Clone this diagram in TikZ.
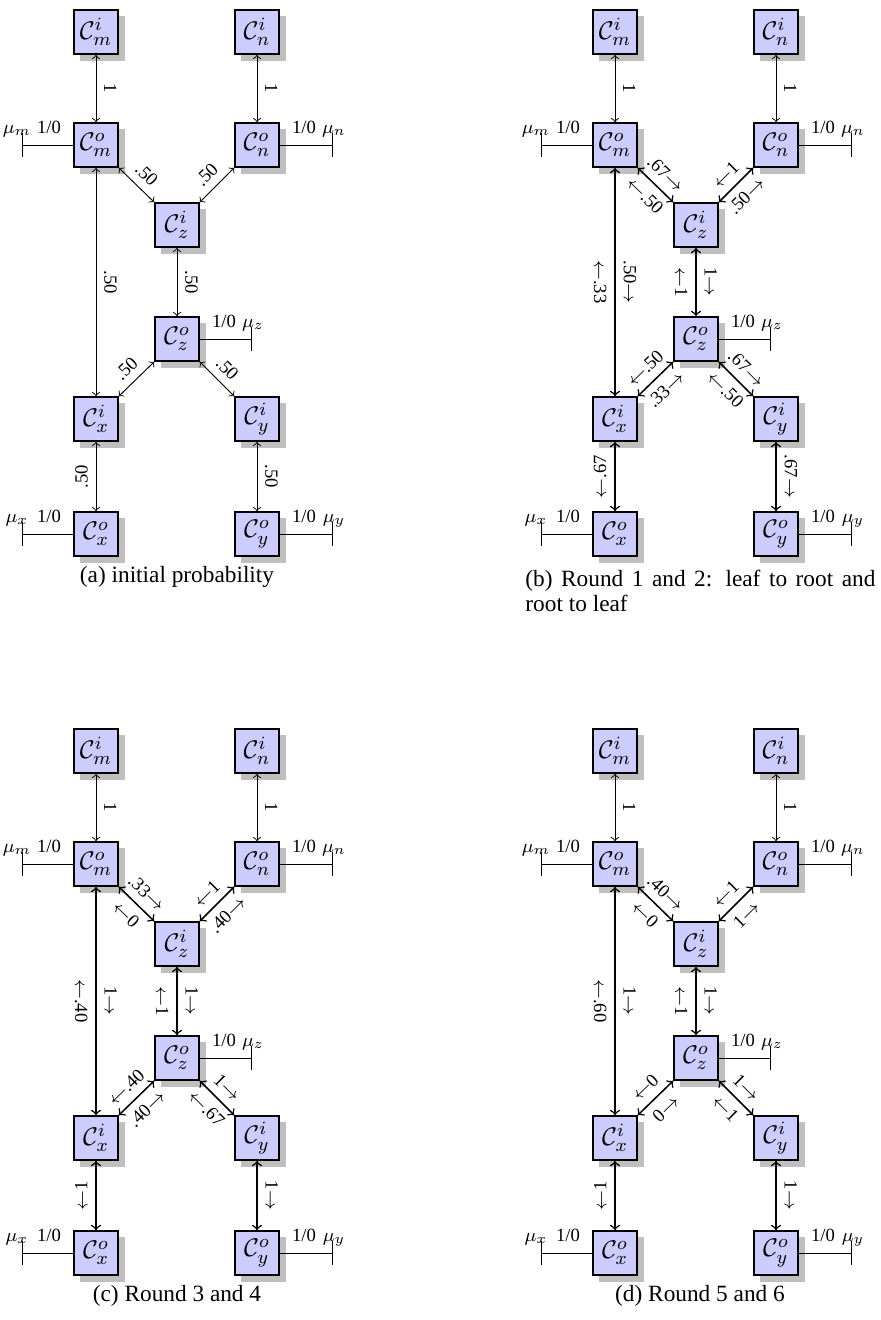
\documentclass[tikz,border=0pt]{standalone}
\usepackage{fontspec}
\setmainfont{Liberation Serif}
\usetikzlibrary{shadows,arrows.meta}

\tikzset{
  cbox/.style={draw, line width=0.6pt, fill=blue!20, minimum width=19pt, minimum height=19pt,
    inner sep=0pt, font=\fontsize{11pt}{13pt}\selectfont,
    drop shadow={shadow xshift=2.8pt, shadow yshift=-2.8pt, fill=black!25, opacity=1}},
  thin edge/.style={<->, >=to, line width=0.4pt},
  msg edge/.style={<->, >=to, line width=0.65pt},
  mu line/.style={line width=0.4pt, -{Bar[width=10pt]}},
  lbl/.style={font=\footnotesize},
  termlbl/.style={font=\footnotesize, inner sep=0.5pt, anchor=base},
  rdown/.style={lbl, rotate=-90, anchor=south},
  ldown/.style={lbl, rotate=-90, anchor=north},
  lup/.style={lbl, rotate=90, anchor=south},
  slabove/.style={lbl, sloped, above},
  slbelow/.style={lbl, sloped, below},
  capt/.style={inner sep=0pt, font=\fontsize{10pt}{10.7pt}\selectfont},
}

% the ten boxes of one tree, the mu terminals and the fixed edges
\newcommand\treenodes[3]{%
\begin{scope}[shift={(#2,#3)}]
  \node[cbox] (#1mi) at (96,32)   {$\mathcal{C}_m^i$};
  \node[cbox] (#1ni) at (257,32)  {$\mathcal{C}_n^i$};
  \node[cbox] (#1mo) at (96,145)  {$\mathcal{C}_m^o$};
  \node[cbox] (#1no) at (257,145) {$\mathcal{C}_n^o$};
  \node[cbox] (#1zi) at (177,225) {$\mathcal{C}_z^i$};
  \node[cbox] (#1zo) at (177,339) {$\mathcal{C}_z^o$};
  \node[cbox] (#1xi) at (96,419)  {$\mathcal{C}_x^i$};
  \node[cbox] (#1yi) at (257,419) {$\mathcal{C}_y^i$};
  \node[cbox] (#1xo) at (96,534)  {$\mathcal{C}_x^o$};
  \node[cbox] (#1yo) at (257,534) {$\mathcal{C}_y^o$};
  \coordinate (#1um) at (22,145);
  \coordinate (#1un) at (333,145);
  \coordinate (#1uz) at (252,339);
  \coordinate (#1ux) at (22,534);
  \coordinate (#1uy) at (333,534);
  \draw[mu line] (#1mo.west) -- (#1um);
  \draw[mu line] (#1no.east) -- (#1un);
  \draw[mu line] (#1zo.east) -- (#1uz);
  \draw[mu line] (#1xo.west) -- (#1ux);
  \draw[mu line] (#1yo.east) -- (#1uy);
  \node[termlbl] (#1lm) at (17,133)  {$\mu_m$};
  \node[termlbl] (#1vm) at (49,133)  {1/0};
  \node[termlbl] (#1vn) at (304,133) {1/0};
  \node[termlbl] (#1ln) at (334,133) {$\mu_n$};
  \node[termlbl] (#1vz) at (224,327) {1/0};
  \node[termlbl] (#1lz) at (253,327) {$\mu_z$};
  \node[termlbl] (#1lx) at (17,522)  {$\mu_x$};
  \node[termlbl] (#1vx) at (49,522)  {1/0};
  \node[termlbl] (#1vy) at (304,522) {1/0};
  \node[termlbl] (#1ly) at (334,522) {$\mu_y$};
  \draw[thin edge] (#1mi) -- node[rdown]{1} (#1mo);
  \draw[thin edge] (#1ni) -- node[rdown]{1} (#1no);
\end{scope}}

\begin{document}
\begin{tikzpicture}[x=0.4292pt, y=-0.4292pt]
\useasboundingbox (0,0) rectangle (881,1320);

% (a) initial probability
\treenodes{a}{0}{0}
\draw[thin edge] (amo.south east) -- node[slabove]{.50} (azi.north west);
\draw[thin edge] (azi.north east) -- node[slabove]{.50} (ano.south west);
\draw[thin edge] (azi) -- node[rdown]{.50} (azo);
\draw[thin edge] (amo) -- node[rdown]{.50} (axi);
\draw[thin edge] (axi.north east) -- node[slabove]{.50} (azo.south west);
\draw[thin edge] (azo.south east) -- node[slabove]{.50} (ayi.north west);
\draw[thin edge] (axi) -- node[lup]{.50} (axo);
\draw[thin edge] (ayi) -- node[rdown]{.50} (ayo);
\node[capt] (capa) at (177,577) {(a) initial probability};

% (b) rounds 1 and 2
\treenodes{b}{519}{0}
\draw[msg edge] (bmo.south east) -- node[slabove]{.67$\rightarrow$} node[slbelow]{$\leftarrow$.50} (bzi.north west);
\draw[msg edge] (bzi.north east) -- node[slabove]{$\leftarrow$1} node[slbelow]{.50$\rightarrow$} (bno.south west);
\draw[msg edge] (bzi) -- node[ldown]{$\leftarrow$1} node[rdown]{1$\rightarrow$} (bzo);
\draw[msg edge] (bmo) -- node[ldown]{$\leftarrow$.33} node[rdown]{.50$\rightarrow$} (bxi);
\draw[msg edge] (bxi.north east) -- node[slabove]{$\leftarrow$.50} node[slbelow]{.33$\rightarrow$} (bzo.south west);
\draw[msg edge] (bzo.south east) -- node[slabove]{.67$\rightarrow$} node[slbelow]{$\leftarrow$.50} (byi.north west);
\draw[msg edge] (bxi) -- node[lup]{$\leftarrow$.67} (bxo);
\draw[msg edge] (byi) -- node[rdown]{.67$\rightarrow$} (byo);
\node[capt, align=left, anchor=west] (capb) at (525,591)
  {\makebox[150.2pt][s]{(b) Round 1 and 2: leaf to root and}\\root to leaf};

% (c) rounds 3 and 4
\treenodes{c}{0}{719}
\draw[msg edge] (cmo.south east) -- node[slabove]{.33$\rightarrow$} node[slbelow]{$\leftarrow$0} (czi.north west);
\draw[msg edge] (czi.north east) -- node[slabove]{$\leftarrow$1} node[slbelow]{.40$\rightarrow$} (cno.south west);
\draw[msg edge] (czi) -- node[ldown]{$\leftarrow$1} node[rdown]{1$\rightarrow$} (czo);
\draw[msg edge] (cmo) -- node[ldown]{$\leftarrow$.40} node[rdown]{1$\rightarrow$} (cxi);
\draw[msg edge] (cxi.north east) -- node[slabove]{$\leftarrow$.40} node[slbelow]{.40$\rightarrow$} (czo.south west);
\draw[msg edge] (czo.south east) -- node[slabove]{1$\rightarrow$} node[slbelow]{$\leftarrow$.67} (cyi.north west);
\draw[msg edge] (cxi) -- node[lup]{$\leftarrow$1} (cxo);
\draw[msg edge] (cyi) -- node[rdown]{1$\rightarrow$} (cyo);
\node[capt] (capc) at (177,1296) {(c) Round 3 and 4};

% (d) rounds 5 and 6
\treenodes{d}{519}{719}
\draw[msg edge] (dmo.south east) -- node[slabove]{.40$\rightarrow$} node[slbelow]{$\leftarrow$0} (dzi.north west);
\draw[msg edge] (dzi.north east) -- node[slabove]{$\leftarrow$1} node[slbelow]{1$\rightarrow$} (dno.south west);
\draw[msg edge] (dzi) -- node[ldown]{$\leftarrow$1} node[rdown]{1$\rightarrow$} (dzo);
\draw[msg edge] (dmo) -- node[ldown]{$\leftarrow$.60} node[rdown]{1$\rightarrow$} (dxi);
\draw[msg edge] (dxi.north east) -- node[slabove]{$\leftarrow$0} node[slbelow]{0$\rightarrow$} (dzo.south west);
\draw[msg edge] (dzo.south east) -- node[slabove]{1$\rightarrow$} node[slbelow]{$\leftarrow$1} (dyi.north west);
\draw[msg edge] (dxi) -- node[lup]{$\leftarrow$1} (dxo);
\draw[msg edge] (dyi) -- node[rdown]{1$\rightarrow$} (dyo);
\node[capt] (capd) at (700,1296) {(d) Round 5 and 6};
\end{tikzpicture}
\end{document}
